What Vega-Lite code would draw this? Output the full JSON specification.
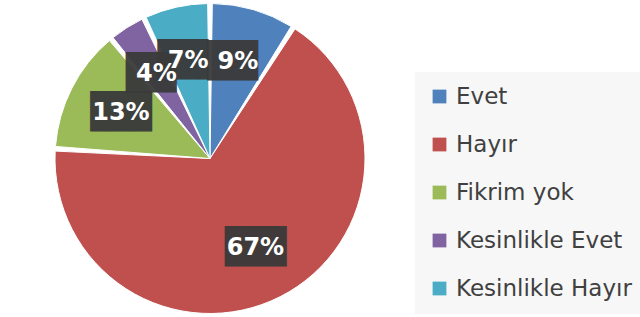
{
  "$schema": "https://vega.github.io/schema/vega-lite/v6.json",
  "width": 420,
  "height": 317,
  "autosize": "none",
  "padding": {"left": 0, "top": 0, "right": 220, "bottom": 0},
  "background": "white",
  "data": {
    "values": [
      {"i": 1, "kategori": "Evet", "yuzde": 9},
      {"i": 2, "kategori": "Hayır", "yuzde": 67},
      {"i": 3, "kategori": "Fikrim yok", "yuzde": 13},
      {"i": 4, "kategori": "Kesinlikle Evet", "yuzde": 4},
      {"i": 5, "kategori": "Kesinlikle Hayır", "yuzde": 7}
    ]
  },
  "transform": [
    {"calculate": "datum.yuzde + '%'", "as": "etiket"},
    {"calculate": "datum.yuzde >= 10 ? '███' : '██▌'", "as": "kutu"}
  ],
  "encoding": {
    "theta": {"field": "yuzde", "type": "quantitative", "stack": true},
    "order": {"field": "i", "type": "quantitative"},
    "color": {
      "field": "kategori",
      "type": "nominal",
      "sort": null,
      "scale": {
        "domain": ["Evet", "Hayır", "Fikrim yok", "Kesinlikle Evet", "Kesinlikle Hayır"],
        "range": ["#4F81BD", "#C0504D", "#9BBB59", "#8064A2", "#4BACC6"]
      },
      "legend": {
        "title": null,
        "orient": "none",
        "legendX": 415,
        "legendY": 72,
        "padding": 13,
        "fillColor": "#f7f7f7",
        "symbolType": "square",
        "symbolSize": 190,
        "symbolStrokeWidth": 0,
        "symbolOpacity": 1,
        "labelFontSize": 23,
        "labelFont": "DejaVu Sans",
        "labelColor": "#404040",
        "labelOffset": 5,
        "rowPadding": 24,
        "labelLimit": 300
      }
    }
  },
  "layer": [
    {
      "mark": {"type": "arc", "outerRadius": 155, "padAngle": 0.03, "stroke": "white", "strokeWidth": 1}
    },
    {
      "mark": {
        "type": "text",
        "radius": 100,
        "font": "DejaVu Sans Mono",
        "fontSize": 34,
        "baseline": "middle",
        "opacity": 0.95
      },
      "encoding": {
        "text": {"field": "kutu", "type": "nominal"},
        "color": {"value": "#3a3a3a"}
      }
    },
    {
      "mark": {
        "type": "text",
        "radius": 100,
        "font": "DejaVu Sans",
        "fontSize": 24,
        "fontWeight": "bold",
        "baseline": "middle"
      },
      "encoding": {
        "text": {"field": "etiket", "type": "nominal"},
        "color": {"value": "white"}
      }
    }
  ]
}
